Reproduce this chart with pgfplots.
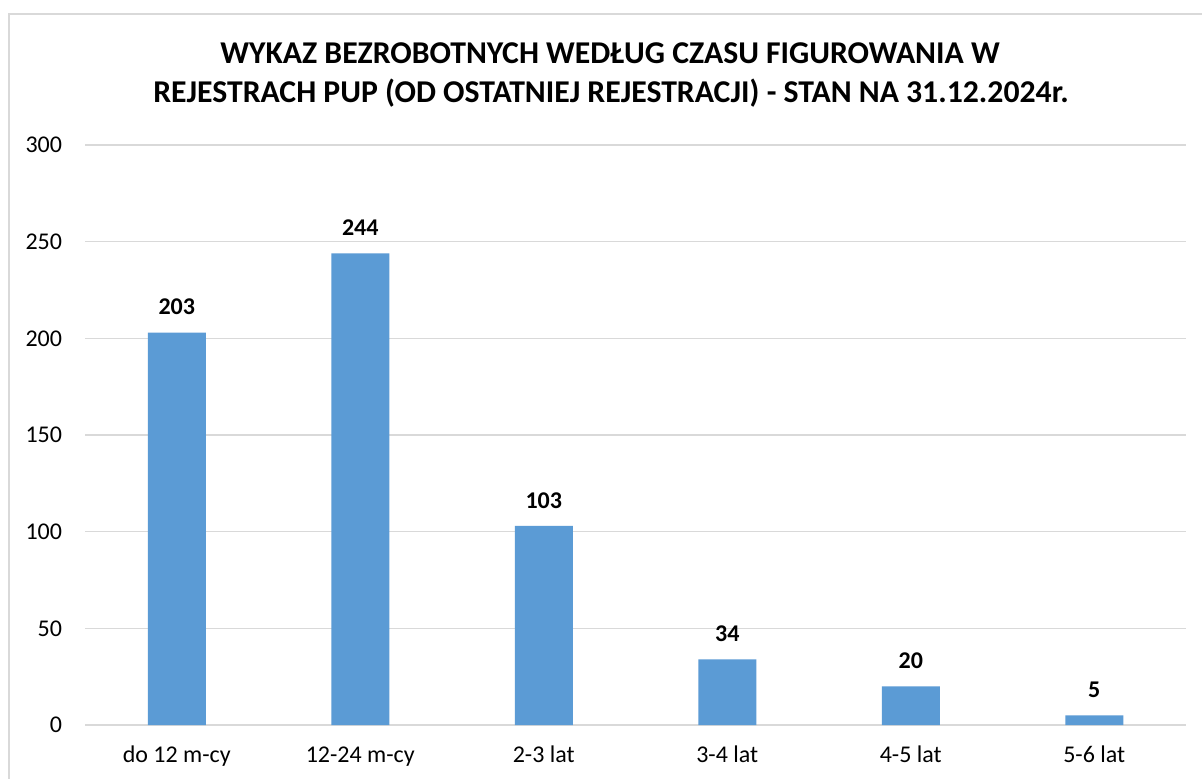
\documentclass[border=0pt]{standalone}
\usepackage{fontspec}
\setmainfont{Carlito}
\usepackage{pgfplots}
\pgfplotsset{compat=1.18}
\definecolor{barblue}{HTML}{5B9BD5}
\definecolor{gridgray}{HTML}{D9D9D9}
\begin{document}
\begin{tikzpicture}[x=0.75pt,y=-0.75pt]
\fill[white] (0,0) rectangle (1202,778);
\draw[gridgray, line width=1.5pt] (9,800) -- (9,13.5) -- (1220,13.5);
\node[font=\bfseries\fontsize{23.8}{28}\selectfont, anchor=base, inner sep=0pt] at (610,63) {WYKAZ BEZROBOTNYCH WEDŁUG CZASU FIGUROWANIA W};
\node[font=\bfseries\fontsize{23.8}{28}\selectfont, anchor=base, inner sep=0pt] at (611,102) {REJESTRACH PUP (OD OSTATNIEJ REJESTRACJI) - STAN NA 31.12.2024r.};
\begin{axis}[
  at={(63.75pt,-543.75pt)}, anchor=south west,
  scale only axis, width=825.75pt, height=435pt,
  xmin=-0.5, xmax=5.5, ymin=0, ymax=300,
  ytick={0,50,...,300},
  xtick={0,1,2,3,4,5},
  xticklabels={do 12 m-cy, 12-24 m-cy, 2-3 lat, 3-4 lat, 4-5 lat, 5-6 lat},
  axis line style={draw=none},
  major tick length=0pt,
  ymajorgrids,
  grid style={gridgray, line width=1.1pt},
  /pgf/number format/assume math mode=true,
  yticklabel style={font=\fontsize{18}{20}\selectfont, anchor=east, inner sep=0pt, xshift=-17pt},
  xticklabel style={font=\fontsize{18}{20}\selectfont, anchor=base, inner sep=0pt, yshift=-27.75pt},
  ybar, bar width=43.5pt,
  nodes near coords,
  every node near coord/.append style={font=\bfseries\fontsize{18}{20}\selectfont, black, anchor=south, inner sep=0pt, yshift=13pt},
]
\addplot[fill=barblue, draw=none] coordinates {(0,203) (1,244) (2,103) (3,34) (4,20) (5,5)};
\end{axis}
\pgfresetboundingbox
\useasboundingbox (0,0) rectangle (1202,778);
\end{tikzpicture}
\end{document}
